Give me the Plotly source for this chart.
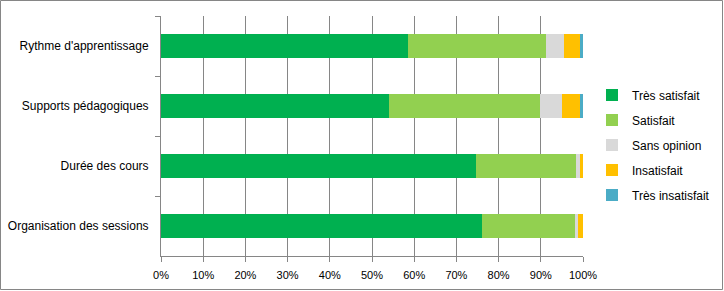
import plotly.graph_objects as go

categories = ["Rythme d'apprentissage", "Supports pédagogiques", "Durée des cours", "Organisation des sessions"]
series_names = ["Très satisfait", "Satisfait", "Sans opinion", "Insatisfait", "Très insatisfait"]
tres_satisfait = [58.5, 54.0, 74.6, 76.0]
satisfait = [32.7, 35.7, 23.7, 22.3]
sans_opinion = [4.2, 5.3, 0.9, 0.4]
insatisfait = [3.8, 4.2, 0.8, 1.3]
tres_insatisfait = [0.8, 0.8, 0.0, 0.0]
colors = ["#00B050", "#92D050", "#D9D9D9", "#FFC000", "#4BACC6"]
tick_vals = [0, 10, 20, 30, 40, 50, 60, 70, 80, 90, 100]
tick_text = [f"{v}%" for v in tick_vals]

series = [tres_satisfait, satisfait, sans_opinion, insatisfait, tres_insatisfait]

fig = go.Figure()
for name, vals, col in zip(series_names, series, colors):
    fig.add_trace(go.Bar(y=categories, x=vals, name=name, orientation="h",
                         legendgroup=name,
                         marker=dict(color=col, line=dict(width=0)),
                         hoverinfo="skip"))

W, H = 724, 291
L, R, T, B = 161, 141, 16, 35
pw, ph = W - L - R, H - T - B

fig.update_layout(
    width=W, height=H, barmode="stack", bargap=0.605,
    margin=dict(l=L, r=R, t=T, b=B, autoexpand=False),
    paper_bgcolor="white", plot_bgcolor="white",
    font=dict(family="Liberation Sans, Arial, sans-serif", size=12, color="#000000"),
    xaxis=dict(range=[0, 100], tickvals=tick_vals, ticktext=tick_text,
               showgrid=True, gridcolor="#868686", gridwidth=1,
               showline=True, linecolor="#868686", linewidth=1,
               ticks="outside", ticklen=5, tickcolor="#868686",
               ticklabelstandoff=4, tickfont=dict(size=11),
               zeroline=False, fixedrange=True, automargin=False),
    yaxis=dict(categoryorder="array", categoryarray=categories, autorange="reversed",
               showline=True, linecolor="#868686", linewidth=1,
               ticks="outside", ticklen=5, tickcolor="#868686", tickson="boundaries",
               showgrid=False, ticklabelstandoff=9, fixedrange=True, automargin=False),
    legend=dict(x=(592 - L) / pw, xanchor="left", y=(H - B - 145) / ph, yanchor="middle",
                traceorder="grouped", itemwidth=30, tracegroupgap=6,
                font=dict(size=12), bgcolor="rgba(0,0,0,0)"),
    showlegend=True,
)

# outer chart border
fig.add_shape(type="rect", xref="paper", yref="paper",
              x0=(0.5 - L) / pw, x1=(W - 1.5 - L) / pw,
              y0=(H - B - (H - 1.5)) / ph, y1=(H - B - 0.5) / ph,
              line=dict(color="#868686", width=1), fillcolor="rgba(0,0,0,0)", layer="below")

fig.write_html("out.html", config={"displayModeBar": False})
